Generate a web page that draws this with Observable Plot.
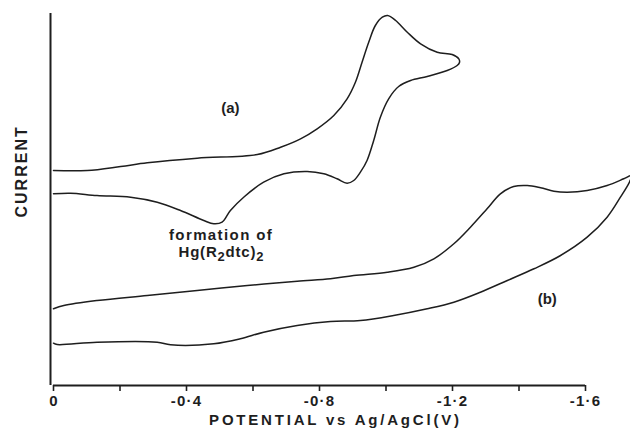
<!DOCTYPE html>
<html><head><meta charset="utf-8">
<script src="https://cdn.jsdelivr.net/npm/d3@7"></script>
<script src="https://cdn.jsdelivr.net/npm/@observablehq/plot@0.6"></script>
<style>
body{margin:0;background:#fff;}
#chart svg{display:block;}
</style></head><body><div id="chart"></div>
<script>
// Curve (a): potential (V vs Ag/AgCl) in scan order, current in arbitrary units
const aPotential = [0, -0.101, -0.202, -0.282, -0.432, -0.613, -0.683, -0.743, -0.793, -0.843, -0.883, -0.908, -0.928, -0.948, -0.968, -0.989, -1.005, -1.029, -1.064, -1.104, -1.154, -1.199, -1.219, -1.221, -1.214, -1.184, -1.124, -1.074, -1.038, -1.008, -0.983, -0.963, -0.943, -0.923, -0.903, -0.883, -0.853, -0.813, -0.763, -0.693, -0.632, -0.572, -0.532, -0.507, -0.482, -0.452, -0.382, -0.312, -0.232, -0.131, -0.051, 0];
const aCurrent   = [217, 217, 221, 224.7, 229.3, 233, 240.3, 248.7, 258.7, 272, 288.7, 305.3, 325.3, 345.3, 362, 370.3, 372, 367, 355.3, 343.7, 335.3, 333, 328.7, 325, 322, 317, 311, 307, 301, 288.7, 270.3, 247, 227, 215.3, 207, 204.3, 208.7, 213.7, 216, 213.7, 205.3, 190.3, 177, 165.3, 163.7, 167, 177, 185.3, 190.3, 192, 194.3, 193.7];

// Curve (b)
const bPotential = [0, -0.031, -0.131, -0.282, -0.432, -0.583, -0.733, -0.833, -0.903, -1.004, -1.084, -1.144, -1.204, -1.254, -1.304, -1.344, -1.384, -1.425, -1.465, -1.505, -1.545, -1.605, -1.665, -1.715, -1.738, -1.733, -1.705, -1.665, -1.605, -1.525, -1.445, -1.365, -1.284, -1.204, -1.124, -1.023, -0.923, -0.833, -0.733, -0.632, -0.562, -0.482, -0.352, -0.312, -0.131, -0.011, 0];
const bCurrent   = [78.7, 82, 87, 92, 97, 102, 106.3, 108.7, 112, 115.3, 120.3, 128.7, 143.7, 160.3, 178.7, 193.7, 201, 202, 199.7, 196.3, 195.3, 197, 202, 208.7, 212, 206, 190.3, 170.3, 150.3, 132, 118.7, 107, 95.3, 85.3, 78.7, 72, 67, 66, 62, 55.3, 48.7, 43.7, 42.7, 45.3, 45.3, 43, 44.3];

// Axis ticks
const tickValues = [0, -0.2, -0.4, -0.6, -0.8, -1.0, -1.2, -1.4, -1.6];
const tickLabels = ["0", "", "-0·4", "", "-0·8", "", "-1·2", "", "-1·6"];

// Annotations
const noteText      = ["(a)", "(b)", "formation of", "Hg(R2dtc)2"];
const notePotential = [-0.532, -1.485, -0.504, -0.505];
const noteCurrent   = [279, 88, 152, 135];

const xTitle = "POTENTIAL vs Ag/AgCl(V)";
const yTitle = "CURRENT";

const aData = aPotential.map((v, i) => ({V: v, I: aCurrent[i]}));
const bData = bPotential.map((v, i) => ({V: v, I: bCurrent[i]}));
const notes = noteText.map((t, i) => ({t, V: notePotential[i], I: noteCurrent[i]}));

const ink = "#1e1e1e";
const chart = Plot.plot({
  width: 630, height: 432,
  marginLeft: 53, marginRight: 45, marginTop: 13, marginBottom: 47,
  style: {fontFamily: "'Liberation Sans', Arial, sans-serif", fontWeight: "bold", fontSize: "14px", color: ink, background: "#fff", overflow: "visible"},
  x: {domain: [0, -1.6], axis: null},
  y: {domain: [2, 374], axis: null},
  marks: [
    Plot.ruleX([0], {y1: 2, y2: 374, dx: -3, stroke: ink, strokeWidth: 2}),
    Plot.ruleY([2], {x1: 0, x2: -1.6, stroke: ink, strokeWidth: 2}),
    Plot.axisX({ticks: tickValues, tickSize: 6, tickPadding: 4, strokeWidth: 1.6, stroke: ink,
      tickFormat: d => tickLabels[tickValues.findIndex(t => Math.abs(t - d) < 1e-9)] ?? "",
      label: null, fontSize: 15, fontWeight: "bold", fill: ink}),
    Plot.line(aData, {x: "V", y: "I", curve: "catmull-rom", stroke: ink, strokeWidth: 1.5}),
    Plot.line(bData, {x: "V", y: "I", curve: "catmull-rom", stroke: ink, strokeWidth: 1.5}),
    Plot.text(notes, {x: "V", y: "I", text: "t", fontSize: 15, fontWeight: "bold", fill: ink}),
    Plot.text([xTitle], {x: [-0.848], frameAnchor: "bottom", dy: 39, text: d => d, fontSize: 15, fontWeight: "bold", fill: ink}),
    Plot.text([yTitle], {y: [170], frameAnchor: "left", dx: -32, rotate: -90, text: d => d, fontSize: 16, fontWeight: "bold", fill: ink})
  ]
});
document.getElementById("chart").appendChild(chart);

const svg = d3.select(chart);
svg.selectAll("text").filter(function(){ return this.textContent === xTitle; }).attr("letter-spacing", "2.8");
svg.selectAll("text").filter(function(){ return this.textContent === yTitle; }).attr("letter-spacing", "2");
svg.selectAll("text").filter(function(){ return this.textContent === "formation of"; }).attr("letter-spacing", "1.4");
svg.selectAll("text").filter(function(){ return tickLabels.includes(this.textContent) && this.textContent.startsWith("-"); }).attr("letter-spacing", "1.2");
svg.selectAll("text").filter(function(){ return this.textContent === "Hg(R2dtc)2"; }).each(function(){
  const t = d3.select(this);
  t.text(null).attr("letter-spacing", "0.8");
  t.append("tspan").text("Hg(R");
  t.append("tspan").attr("dy", "4").attr("font-size", "13").text("2");
  t.append("tspan").attr("dy", "-4").text("dtc)");
  t.append("tspan").attr("dy", "4").attr("font-size", "13").text("2");
});
</script></body></html>
